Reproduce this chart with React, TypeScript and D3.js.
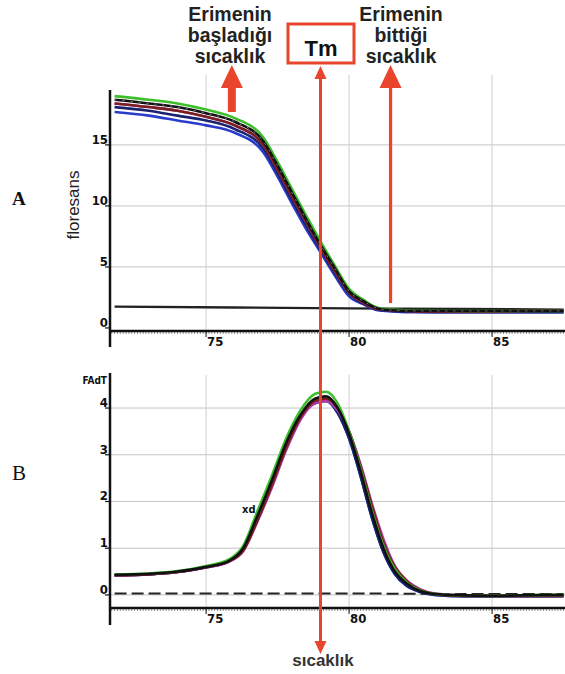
import React from "react";
import * as d3 from "d3";

// ---------- data ----------
const tempA = [71.8, 73, 74, 75, 76, 77, 77.5, 78, 78.5, 79, 79.5, 80, 80.5, 81, 81.5, 82, 83, 84, 85, 86, 87.5];
const greenA = [19.0, 18.7, 18.4, 17.9, 17.2, 15.6, 13.6, 11.4, 9.2, 7.1, 5.1, 3.2, 2.3, 1.65, 1.5, 1.45, 1.42, 1.4, 1.4, 1.4, 1.4];
const blackA = [18.7, 18.4, 18.1, 17.6, 16.9, 15.3, 13.3, 11.1, 8.9, 6.8, 4.9, 3.0, 2.2, 1.6, 1.45, 1.4, 1.4, 1.4, 1.4, 1.4, 1.4];
const redA = [18.4, 18.1, 17.8, 17.3, 16.6, 15.0, 13.0, 10.8, 8.7, 6.6, 4.7, 2.9, 2.1, 1.55, 1.45, 1.4, 1.35, 1.35, 1.35, 1.4, 1.45];
const navyA = [18.1, 17.8, 17.4, 17.0, 16.3, 14.7, 12.7, 10.5, 8.4, 6.4, 4.5, 2.8, 2.0, 1.5, 1.4, 1.35, 1.3, 1.3, 1.3, 1.3, 1.3];
const blueA = [17.7, 17.4, 17.0, 16.6, 16.0, 14.4, 12.4, 10.2, 8.1, 6.2, 4.3, 2.6, 1.95, 1.45, 1.35, 1.3, 1.3, 1.3, 1.3, 1.3, 1.3];

const tempB = [71.8, 73, 74, 75, 75.8, 76.3, 76.8, 77.3, 77.8, 78.3, 78.8, 79.2, 79.6, 80, 80.4, 80.8, 81.2, 81.6, 82, 82.5, 83, 84, 85, 86, 87.5];
const greenB = [0.44, 0.46, 0.51, 0.62, 0.76, 1.05, 1.8, 2.55, 3.35, 3.95, 4.3, 4.35, 4.1, 3.5, 2.7, 1.8, 1.05, 0.55, 0.27, 0.09, 0.02, -0.01, -0.02, -0.01, 0.0];
const blackB = [0.43, 0.45, 0.5, 0.6, 0.73, 1.0, 1.7, 2.45, 3.25, 3.85, 4.2, 4.25, 4.0, 3.45, 2.65, 1.75, 1.0, 0.5, 0.25, 0.08, 0.02, -0.01, -0.02, -0.01, 0.0];
const redB = [0.42, 0.44, 0.49, 0.6, 0.72, 0.95, 1.6, 2.35, 3.15, 3.8, 4.15, 4.2, 4.0, 3.5, 2.75, 1.9, 1.12, 0.6, 0.3, 0.1, 0.02, -0.02, -0.02, -0.02, -0.02];
const navyB = [0.42, 0.44, 0.49, 0.59, 0.72, 0.98, 1.65, 2.4, 3.2, 3.8, 4.1, 4.15, 3.9, 3.35, 2.55, 1.65, 0.92, 0.45, 0.2, 0.06, 0.0, -0.03, -0.03, -0.03, -0.03];
const magentaB = [0.42, 0.44, 0.49, 0.59, 0.71, 0.94, 1.58, 2.3, 3.1, 3.75, 4.1, 4.15, 3.95, 3.5, 2.8, 1.95, 1.2, 0.62, 0.32, 0.12, 0.03, -0.01, -0.02, -0.02, -0.02];

const baseT = [71.8, 76, 80, 84, 87.5];
const baseA = [1.75, 1.68, 1.6, 1.55, 1.5];
const baseB = [0.03, 0.03, 0.03, 0.02, 0.02];

const xTicks = [75, 80, 85];
const yTicksA = [0, 5, 10, 15];
const yTicksB = [0, 1, 2, 3, 4];

const tmTemp = 79.0;
const onsetTemp = 75.9;
const endTemp = 81.45;

const seriesColors = ["#2a3ccc", "#1a2370", "#b03cb0", "#7a1f1f", "#3cbf2a", "#111111"];

// ---------- layout ----------
const W = 565;
const H = 674;
const RED = "#e8452c";
const narrow = "'Liberation Sans Narrow','DejaVu Sans Condensed','Arial Narrow',sans-serif";
const sans = "'Liberation Sans',Arial,Helvetica,sans-serif";

const x = d3.scaleLinear().domain([71.64, 87.55]).range([110, 565]);
const yA = d3.scaleLinear().domain([-0.25, 19.5]).range([331, 90]);
const yB = d3.scaleLinear().domain([-0.28, 4.75]).range([608, 373]);

function lineGen(ys: d3.ScaleLinear<number, number>) {
  return d3
    .line<[number, number]>()
    .x((d) => x(d[0]))
    .y((d) => ys(d[1]))
    .curve(d3.curveMonotoneX);
}

function zip(t: number[], v: number[]): [number, number][] {
  return t.map((tt, i) => [tt, v[i]]);
}

function Panel({
  ys,
  yTicks,
  axisY,
  axisTop,
  axisBottom,
  gridTop,
  gridZero,
}: {
  ys: d3.ScaleLinear<number, number>;
  yTicks: number[];
  axisY: number;
  axisTop: number;
  axisBottom: number;
  gridTop: number;
  gridZero: boolean;
}) {
  const minor = x.ticks(160);
  return (
    <g>
      {yTicks
        .filter((t) => t !== 0 || gridZero)
        .map((t) => (
          <line key={"h" + t} x1={111} x2={W} y1={ys(t)} y2={ys(t)} stroke="#c4c4c4" strokeWidth={1} />
        ))}
      {xTicks.map((t) => (
        <line key={"v" + t} x1={x(t)} x2={x(t)} y1={gridTop} y2={axisY} stroke="#cfcfcf" strokeWidth={1} />
      ))}
      {minor.map((t, i) => (
        <line key={"m" + i} x1={x(t)} x2={x(t)} y1={axisY + 1} y2={axisY + 3} stroke="#777" strokeWidth={0.8} />
      ))}
      <line x1={109} x2={W} y1={axisY} y2={axisY} stroke="#111" strokeWidth={2.5} />
      {xTicks.map((t) => (
        <g key={"xt" + t}>
          <line x1={x(t)} x2={x(t)} y1={axisY} y2={axisY + 6} stroke="#111" strokeWidth={1} />
          <text x={x(t) + 1} y={axisY + 15} fontFamily={narrow} fontWeight="bold" fontSize={13} fill="#111">
            {t}
          </text>
        </g>
      ))}
      <line x1={110} x2={110} y1={axisTop} y2={axisBottom} stroke="#111" strokeWidth={2.5} />
      {yTicks.map((t) => (
        <g key={"yt" + t}>
          <line x1={105} x2={110} y1={ys(t)} y2={ys(t)} stroke="#111" strokeWidth={1.2} />
          <text x={108} y={ys(t) - 1} textAnchor="end" fontFamily={narrow} fontWeight="bold" fontSize={13} fill="#111">
            {t}
          </text>
        </g>
      ))}
    </g>
  );
}

export default function App() {
  const lA = lineGen(yA);
  const lB = lineGen(yB);
  const seriesA = [blueA, navyA, redA, redA, greenA, blackA];
  const seriesB = [navyB, navyB, magentaB, redB, greenB, blackB];
  const xTm = x(tmTemp);
  const xOn = x(onsetTemp);
  const xEnd = x(endTemp);

  return (
    <svg width={W} height={H} style={{ position: "absolute", left: 0, top: 0, background: "#fff" }}>
      <rect x={0} y={0} width={W} height={H} fill="#fff" />

      {/* Panel A */}
      <Panel ys={yA} yTicks={yTicksA} axisY={331} axisTop={90} axisBottom={347} gridTop={75} gridZero={false} />
      <path d={lA(zip(baseT, baseA)) || ""} fill="none" stroke="#222" strokeWidth={2.4} />
      {seriesA.map((s, i) => (
        <path key={"a" + i} d={lA(zip(tempA, s)) || ""} fill="none" stroke={seriesColors[i]} strokeWidth={2.6} />
      ))}
      <path d={lA(zip(tempA, blackA)) || ""} fill="none" stroke="#fff" strokeWidth={0.8} strokeDasharray="2 6" opacity={0.6} />

      {/* Panel B */}
      <Panel ys={yB} yTicks={yTicksB} axisY={608} axisTop={373} axisBottom={625} gridTop={375} gridZero={true} />
      <path d={lB(zip(baseT, baseB)) || ""} fill="none" stroke="#222" strokeWidth={2} strokeDasharray="12 5" />
      {seriesB.map((s, i) => (
        <path key={"b" + i} d={lB(zip(tempB, s)) || ""} fill="none" stroke={seriesColors[i]} strokeWidth={2.6} />
      ))}

      {/* labels */}
      <text x={12} y={205} fontFamily="'Liberation Serif','DejaVu Serif',serif" fontWeight="bold" fontSize={19} fill="#111">A</text>
      <text x={12} y={480} fontFamily="'Liberation Serif','DejaVu Serif',serif" fontSize={21} fill="#111">B</text>
      <text transform="translate(79,205) rotate(-90)" textAnchor="middle" fontFamily={sans} fontSize={17} fill="#222">floresans</text>
      <text x={107} y={384} textAnchor="end" fontFamily={narrow} fontWeight="bold" fontSize={10} fill="#111">FAdT</text>
      <text x={242} y={513} fontFamily={narrow} fontWeight="bold" fontSize={11} fill="#111">xd</text>

      {/* headers */}
      <g fontFamily={sans} fontWeight="bold" fontSize={19.5} fill="#222" textAnchor="middle">
        <text x={230} y={21}>Erimenin</text>
        <text x={230} y={42}>başladığı</text>
        <text x={230} y={63}>sıcaklık</text>
        <text x={401} y={21}>Erimenin</text>
        <text x={401} y={42}>bittiği</text>
        <text x={401} y={63}>sıcaklık</text>
      </g>

      {/* onset arrow (thick) */}
      <rect x={xOn - 4} y={86} width={8} height={26} fill={RED} />
      <polygon points={`${xOn - 11},${88} ${xOn + 11},${88} ${xOn},${65}`} fill={RED} />

      {/* end arrow (thin) */}
      <line x1={xEnd} x2={xEnd} y1={303} y2={84} stroke={RED} strokeWidth={3.2} />
      <polygon points={`${xEnd - 11},${88} ${xEnd + 11},${88} ${xEnd},${65}`} fill={RED} />

      {/* Tm box and line */}
      <rect x={288} y={24} width={66} height={39} fill="#fff" stroke={RED} strokeWidth={3} />
      <text x={321} y={56} textAnchor="middle" fontFamily={sans} fontWeight="bold" fontSize={22} fill="#111">Tm</text>
      <line x1={xTm} x2={xTm} y1={76} y2={643} stroke={RED} strokeWidth={3} />
      <polygon points={`${xTm - 6},${79} ${xTm + 6},${79} ${xTm},${66}`} fill={RED} />
      <polygon points={`${xTm - 6},${641} ${xTm + 6},${641} ${xTm},${654}`} fill={RED} />
      <text x={323} y={666} textAnchor="middle" fontFamily={sans} fontWeight="bold" fontSize={17} fill="#333">sıcaklık</text>
    </svg>
  );
}
